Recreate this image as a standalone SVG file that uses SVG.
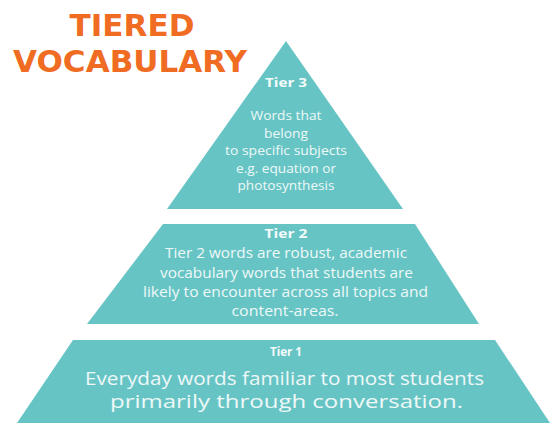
<svg xmlns="http://www.w3.org/2000/svg" width="550" height="423" viewBox="0 0 550 423">
  <style>
    .tier { fill: #67c4c4; }
    .title { font-family: "DejaVu Sans", "Open Sans", sans-serif; font-weight: 700; font-size: 30px; fill: #f06c23; text-anchor: middle; }
    .head { font-family: "Open Sans", "Liberation Sans", sans-serif; font-weight: 700; font-size: 12.5px; fill: #f4fbfb; text-anchor: middle; }
    .body { font-family: "Open Sans", "Liberation Sans", sans-serif; font-weight: 400; fill: #eef8f8; text-anchor: middle; }
    .s13 { font-size: 13.5px; }
    .s14 { font-size: 14.5px; }
    .s16 { font-size: 17.5px; }
  </style>

  <rect width="550" height="423" fill="#ffffff"/>

  <!-- heading -->
  <g id="title">
    <text class="title" x="132" y="36" textLength="125" lengthAdjust="spacingAndGlyphs">TIERED</text>
    <text class="title" x="130" y="72" textLength="234" lengthAdjust="spacingAndGlyphs">VOCABULARY</text>
  </g>

  <!-- top of the pyramid -->
  <g id="tier3">
    <polygon class="tier" points="286,41 403,209 167,209"/>
    <text class="head" x="286" y="87" textLength="42" lengthAdjust="spacingAndGlyphs">Tier 3</text>
    <text class="body s13" x="286" y="120" textLength="71" lengthAdjust="spacingAndGlyphs">Words that</text>
    <text class="body s13" x="286" y="137.5" textLength="44" lengthAdjust="spacingAndGlyphs">belong</text>
    <text class="body s13" x="286" y="155" textLength="122" lengthAdjust="spacingAndGlyphs">to specific subjects</text>
    <text class="body s13" x="286" y="172.5" textLength="100" lengthAdjust="spacingAndGlyphs">e.g. equation or</text>
    <text class="body s13" x="286" y="190" textLength="97" lengthAdjust="spacingAndGlyphs">photosynthesis</text>
  </g>

  <!-- middle band -->
  <g id="tier2">
    <polygon class="tier" points="163,224 415,224 479,324 87,324"/>
    <text class="head" x="286" y="238" textLength="43" lengthAdjust="spacingAndGlyphs">Tier 2</text>
    <text class="body s14" x="286" y="258" textLength="242" lengthAdjust="spacingAndGlyphs">Tier 2 words are robust, academic</text>
    <text class="body s14" x="286.5" y="277.5" textLength="253" lengthAdjust="spacingAndGlyphs">vocabulary words that students are</text>
    <text class="body s14" x="285.5" y="297" textLength="285" lengthAdjust="spacingAndGlyphs">likely to encounter across all topics and</text>
    <text class="body s14" x="285" y="316" textLength="107" lengthAdjust="spacingAndGlyphs">content-areas.</text>
  </g>

  <!-- base band -->
  <g id="tier1">
    <polygon class="tier" points="73,340 495,340 550,423 17,423"/>
    <text class="head" x="286" y="356" style="font-size:12px" textLength="32" lengthAdjust="spacingAndGlyphs">Tier 1</text>
    <text class="body s16" x="284.5" y="385" textLength="399" lengthAdjust="spacingAndGlyphs">Everyday words familiar to most students</text>
    <text class="body s16" x="286.5" y="408" textLength="353" lengthAdjust="spacingAndGlyphs">primarily through conversation.</text>
  </g>

  <!-- no connectors in this figure -->
  <g id="connectors"/>
</svg>
